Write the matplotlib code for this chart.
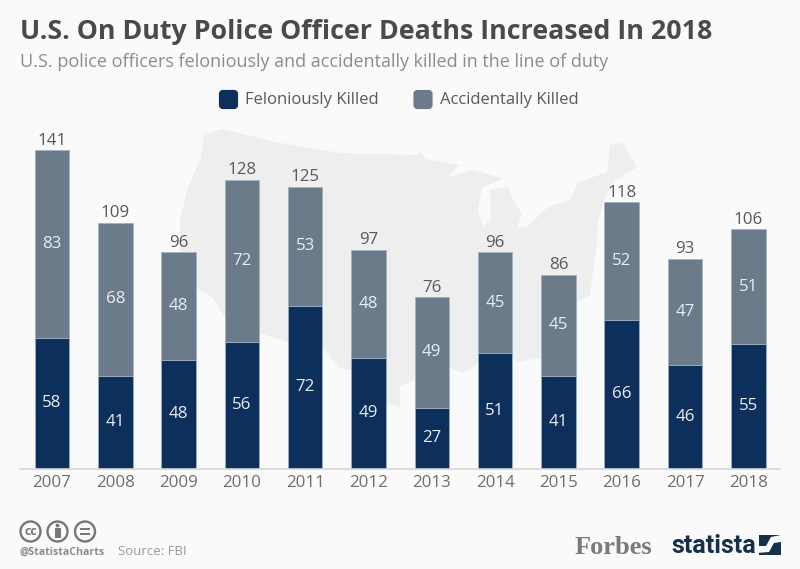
"""U.S. police officer deaths, stacked bars over a faint map."""
import matplotlib
matplotlib.use("Agg")
import matplotlib.pyplot as plt
from matplotlib.patches import Circle, FancyBboxPatch, Polygon, Rectangle

plt.rcParams["font.family"] = ["Open Sans", "DejaVu Sans"]

years = ["2007", "2008", "2009", "2010", "2011", "2012",
         "2013", "2014", "2015", "2016", "2017", "2018"]
felonious = [58, 41, 48, 56, 72, 49, 27, 51, 41, 66, 46, 55]
accidental = [83, 68, 48, 72, 53, 48, 49, 45, 45, 52, 47, 51]

title = "U.S. On Duty Police Officer Deaths Increased In 2018"
subtitle = "U.S. police officers feloniously and accidentally killed in the line of duty"

# rough outline of the background map, in image pixels
map_outline = [
    (205, 132), (208, 134), (222, 129), (280, 143), (340, 153), (418, 155), (421, 152),
    (425, 159), (460, 165), (445, 178), (473, 170), (503, 178), (482, 188), (478, 210),
    (483, 227), (491, 218), (490, 190), (508, 187), (513, 200), (522, 213), (517, 228),
    (527, 227), (548, 207), (570, 200), (577, 183), (607, 172), (610, 145), (623, 143),
    (637, 167), (613, 182), (604, 200), (598, 222), (596, 250), (592, 280), (590, 295),
    (577, 302), (565, 330), (565, 395), (555, 395), (548, 365), (540, 358), (518, 362),
    (513, 358), (478, 363), (463, 373), (450, 368), (415, 380), (400, 387), (400, 408),
    (387, 403), (350, 370), (340, 368), (330, 357), (322, 347), (287, 342), (260, 333),
    (223, 315), (213, 298), (197, 288), (180, 255), (180, 220), (188, 187), (200, 160),
]
statista_mark = [(757, 553), (757, 546), (766, 546), (771, 537), (781, 535), (781, 542),
                 (774, 543), (769, 552)]

NAVY = "#0d2f5b"
SLATE = "#6c7b8a"
BG = "#fafafa"
EDGE = "#9db1c6"
LABEL = 12.2

fig = plt.figure(figsize=(8, 5.69), dpi=100, facecolor=BG)

# full-figure layer in pixel coordinates for map, legend, header and footer
bg = fig.add_axes([0, 0, 1, 1], zorder=0)
bg.set_xlim(0, 800)
bg.set_ylim(569, 0)
bg.axis("off")
bg.add_patch(Polygon(map_outline, closed=True, facecolor="#eeeeee", edgecolor="none"))

bg.text(20, 32, title, fontsize=19.25, fontweight="bold", color="#4a4a4a", va="center")
bg.text(20, 61.5, subtitle, fontsize=12.95, color="#8c8c8c", va="center")

for x0, col, lab in [(219, NAVY, "Feloniously Killed"), (413.5, SLATE, "Accidentally Killed")]:
    bg.add_patch(FancyBboxPatch((x0 + 2, 92), 15, 15, boxstyle="round,pad=0,rounding_size=2",
                                mutation_aspect=1, facecolor=col, edgecolor=col, linewidth=3))
    bg.text(x0 + 26, 100, lab, fontsize=12, color="#595959", va="center")

# footer
for cx in [30.5, 57.5, 85]:
    bg.add_patch(Circle((cx, 531.5), 10, facecolor="none", edgecolor="#777777", linewidth=1.7))
bg.text(30.5, 531.5, "cc", fontsize=9, fontweight="bold", color="#777777", ha="center", va="center")
bg.add_patch(Circle((57.5, 525.5), 1.9, facecolor="#777777", edgecolor="none"))
bg.add_patch(Rectangle((54.5, 528), 6, 10, facecolor="#777777", edgecolor="none"))
bg.add_patch(Rectangle((80, 527.5), 10, 2.2, facecolor="#777777", edgecolor="none"))
bg.add_patch(Rectangle((80, 533), 10, 2.2, facecolor="#777777", edgecolor="none"))
bg.text(20, 552, "@StatistaCharts", fontsize=7.6, fontweight="bold", color="#8c8c8c", va="center")
bg.text(118, 551.5, "Source: FBI", fontsize=9.5, color="#9a9a9a", va="center")

bg.text(575, 547, "Forbes", family=["Liberation Serif"], fontsize=19, fontweight="bold",
        color="#7a7a7a", va="center")
bg.text(671, 546, "statista", family=["Roboto"], fontsize=18, fontweight="bold",
        color="#16304a", va="center")
bg.add_patch(Rectangle((759, 535), 22, 20, facecolor="#16304a", edgecolor="none"))
bg.add_patch(Polygon(statista_mark, closed=True, facecolor=BG, edgecolor="none"))

# bars
ax = fig.add_axes([20 / 800, (569 - 468.5) / 569, 760 / 800, 348.5 / 569], zorder=1)
ax.patch.set_alpha(0)
x = range(len(years))
b1 = ax.bar(x, felonious, width=0.545, color=NAVY, edgecolor=EDGE, linewidth=0.5)
b2 = ax.bar(x, accidental, width=0.545, bottom=felonious, color=SLATE, edgecolor=EDGE,
            linewidth=0.5)
ax.bar_label(b1, label_type="center", color="#e8edf2", fontsize=LABEL)
ax.bar_label(b2, label_type="center", color="#e8edf2", fontsize=LABEL)
totals = [f + a for f, a in zip(felonious, accidental)]
ax.bar_label(b2, labels=[str(t) for t in totals], padding=1, color="#595959", fontsize=LABEL)

ax.set_xlim(-0.505, 11.5)
ax.set_ylim(0, 154.5)
ax.set_xticks(list(x))
ax.set_xticklabels(years, fontsize=LABEL, color="#6e6e6e")
ax.set_yticks([])
ax.tick_params(axis="x", length=0, pad=4.5)
for s in ["top", "left", "right"]:
    ax.spines[s].set_visible(False)
ax.spines["bottom"].set_color("#d6d6d6")
ax.spines["bottom"].set_linewidth(1.2)

plt.savefig("out.png", dpi=100, facecolor=BG)
plt.close()
